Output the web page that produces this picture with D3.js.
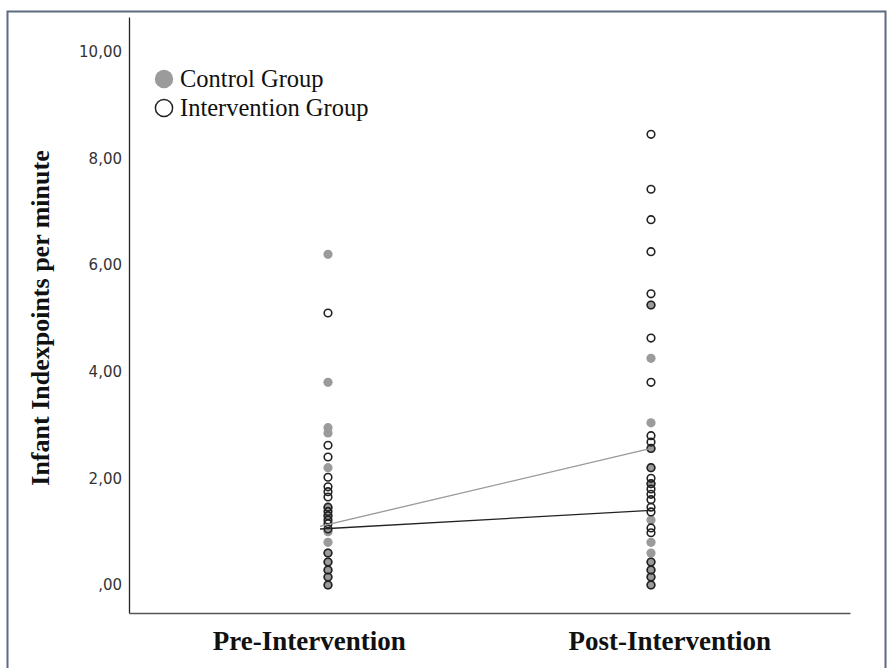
<!DOCTYPE html>
<html>
<head>
<meta charset="utf-8">
<script src="https://cdn.jsdelivr.net/npm/d3@7/dist/d3.min.js"></script>
<style>
  html, body { margin: 0; padding: 0; background: #fff; }
  svg { display: block; }
</style>
</head>
<body>
<svg id="chart" width="893" height="668"></svg>
<script>
// ---- data ----
const categories = ["Pre-Intervention", "Post-Intervention"];
const seriesNames = ["Control Group", "Intervention Group"];
const yTicks = [0, 2, 4, 6, 8, 10];

const controlPre = [6.2, 3.8, 2.95, 2.85, 2.2, 1.45, 1.3, 1.0, 0.8, 0.6, 0.43, 0.28, 0.15, 0];
const interventionPre = [5.1, 2.62, 2.4, 2.02, 1.84, 1.75, 1.65, 1.46, 1.38, 1.3, 1.22, 1.15, 1.05, 0.6, 0.43, 0.28, 0.15, 0];
const controlPost = [5.25, 4.25, 3.04, 2.56, 2.2, 1.9, 1.22, 0.8, 0.6, 0.43, 0.28, 0.15, 0];
const interventionPost = [8.45, 7.42, 6.85, 6.25, 5.46, 5.25, 4.63, 3.8, 2.8, 2.68, 2.56, 2.2, 2.0, 1.9, 1.8, 1.7, 1.6, 1.46, 1.37, 1.07, 0.98, 0.43, 0.28, 0.15, 0];
const controlMeans = [1.1, 2.56];
const interventionMeans = [1.05, 1.4];

// ---- setup ----
const svg = d3.select("#chart");
const GRAY = "#9b9b9b";
const DARK = "#222";

svg.append("rect").attr("x", 7.5).attr("y", 11.5).attr("width", 878).attr("height", 700)
  .attr("fill", "#fff").attr("stroke", "#5d6b80").attr("stroke-width", 2);

const y = d3.scaleLinear().domain([-0.525, 10.65]).range([613, 17]);
const xBand = d3.scaleBand().domain(categories).range([129, 850]);
const xPt = d3.scalePoint().domain(categories).range([328, 651]);
const xMean = d3.scalePoint().domain(categories).range([320, 651]);

const fmt = v => { let s = d3.format(".2f")(v).replace(".", ","); return s.startsWith("0,") ? s.slice(1) : s; };

// y axis
const yAx = svg.append("g").attr("transform", "translate(129,0)")
  .call(d3.axisLeft(y).tickValues(yTicks).tickSize(0).tickPadding(7).tickFormat(fmt));
yAx.select(".domain").attr("stroke", "#222").attr("stroke-width", 1.3);
yAx.selectAll("text").attr("font-family", "DejaVu Sans").attr("font-size", 15).attr("fill", "#333");

// x axis
const xAx = svg.append("g").attr("transform", "translate(0,613)")
  .call(d3.axisBottom(xBand).tickSize(0).tickPadding(18));
xAx.select(".domain").attr("stroke", "#555").attr("stroke-width", 1.6);
xAx.selectAll("text").attr("font-family", "Liberation Serif").attr("font-weight", "bold")
  .attr("font-size", 27).attr("fill", "#111");

// y title
svg.append("text").attr("transform", "translate(49,318) rotate(-90)")
  .attr("text-anchor", "middle").attr("font-family", "Liberation Serif").attr("font-weight", "bold")
  .attr("font-size", 26).attr("fill", "#111").text("Infant Indexpoints per minute");

// points
const ctrl = [[categories[0], controlPre], [categories[1], controlPost]];
const intv = [[categories[0], interventionPre], [categories[1], interventionPost]];
ctrl.forEach(([c, vals]) => {
  svg.append("g").selectAll("circle").data(vals).join("circle")
    .attr("cx", xPt(c)).attr("cy", d => y(d)).attr("r", 4.6)
    .attr("fill", GRAY).attr("stroke", "none");
});
intv.forEach(([c, vals]) => {
  svg.append("g").selectAll("circle").data(vals).join("circle")
    .attr("cx", xPt(c)).attr("cy", d => y(d)).attr("r", 3.8)
    .attr("fill", "none").attr("stroke", DARK).attr("stroke-width", 1.6);
});

// mean lines
const line = d3.line().x(d => xMean(d[0])).y(d => y(d[1]));
svg.append("path").datum(categories.map((c, i) => [c, controlMeans[i]]))
  .attr("d", line).attr("fill", "none").attr("stroke", "#999").attr("stroke-width", 1.3);
svg.append("path").datum(categories.map((c, i) => [c, interventionMeans[i]]))
  .attr("d", line).attr("fill", "none").attr("stroke", "#222").attr("stroke-width", 1.3);

// legend
const legend = svg.append("g");
seriesNames.forEach((name, i) => {
  const cy = 79 + i * 29;
  const c = legend.append("circle").attr("cx", 164).attr("cy", cy).attr("r", i === 0 ? 9.2 : 8.6);
  if (i === 0) c.attr("fill", GRAY);
  else c.attr("fill", "none").attr("stroke", DARK).attr("stroke-width", 1.5);
  legend.append("text").attr("x", 180).attr("y", cy + 8)
    .attr("font-family", "Liberation Serif").attr("font-size", 24.5).attr("fill", "#111").text(name);
});
</script>
</body>
</html>
